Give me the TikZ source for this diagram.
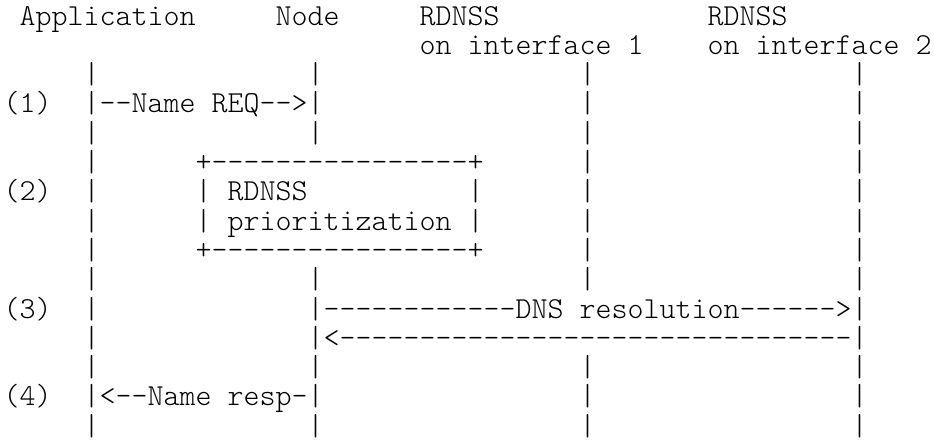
\documentclass[tikz,border=0pt]{standalone}
\usepackage{fontspec}
\newfontfamily\ascfont{lmmonolt10-regular.otf}[Ligatures=TeXOff]
\newcommand\s[1]{\hspace*{#1\fontcharwd\font`x}}
\newcommand\ascsize{\ascfont\fontsize{30.476pt}{29.3pt}\selectfont}
\begin{document}
\begin{tikzpicture}[x=1pt,y=1pt,
  rowtext/.style={anchor=base west, inner sep=0pt, outer sep=0pt, text=black}]
\useasboundingbox[fill=white] (0,0) rectangle (934,-442);
\def\rx{3.7}
\def\ry#1{-25-29.3*#1}
\node[rowtext] (row0)  at (\rx,{\ry{0}})  {\ascsize\s{1}Application\s{5}Node\s{5}RDNSS\s{13}RDNSS};
\node[rowtext] (row1)  at (\rx,{\ry{1}})  {\ascsize\s{26}on interface 1\s{4}on interface 2};
\node[rowtext] (row2)  at (\rx,{\ry{2}})  {\ascsize\s{5}|\s{13}|\s{16}|\s{16}|};
\node[rowtext] (row3)  at (\rx,{\ry{3}})  {\ascsize(1)\s{2}|--Name REQ-->|\s{16}|\s{16}|};
\node[rowtext] (row4)  at (\rx,{\ry{4}})  {\ascsize\s{5}|\s{13}|\s{16}|\s{16}|};
\node[rowtext] (row5)  at (\rx,{\ry{5}})  {\ascsize\s{5}|\s{6}+----------------+\s{6}|\s{16}|};
\node[rowtext] (row6)  at (\rx,{\ry{6}})  {\ascsize(2)\s{2}|\s{6}|\s{1}RDNSS\s{10}|\s{6}|\s{16}|};
\node[rowtext] (row7)  at (\rx,{\ry{7}})  {\ascsize\s{5}|\s{6}|\s{1}prioritization\s{1}|\s{6}|\s{16}|};
\node[rowtext] (row8)  at (\rx,{\ry{8}})  {\ascsize\s{5}|\s{6}+----------------+\s{6}|\s{16}|};
\node[rowtext] (row9)  at (\rx,{\ry{9}})  {\ascsize\s{5}|\s{13}|\s{16}|\s{16}|};
\node[rowtext] (row10) at (\rx,{\ry{10}}) {\ascsize(3)\s{2}|\s{13}|------------DNS resolution------>|};
\node[rowtext] (row11) at (\rx,{\ry{11}}) {\ascsize\s{5}|\s{13}|<--------------------------------|};
\node[rowtext] (row12) at (\rx,{\ry{12}}) {\ascsize\s{5}|\s{13}|\s{16}|\s{16}|};
\node[rowtext] (row13) at (\rx,{\ry{13}}) {\ascsize(4)\s{2}|<--Name resp-|\s{16}|\s{16}|};
\node[rowtext] (row14) at (\rx,{\ry{14}}) {\ascsize\s{5}|\s{13}|\s{16}|\s{16}|};
\end{tikzpicture}
\end{document}
